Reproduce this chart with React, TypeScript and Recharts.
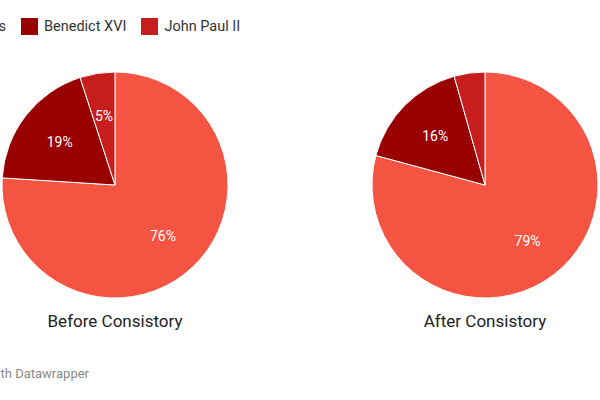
import {PieChart, Pie, Cell, Legend} from 'recharts'

const popes = ['Francis', 'Benedict XVI', 'John Paul II']
const colors = ['#f65442', '#990000', '#c71e1d']
const beforeValues = [76, 19, 5]
const afterValues = [79.2, 16.4, 4.4]
const chartTitles = ['Before Consistory', 'After Consistory']

const beforeData = popes.map((name, i) => ({name, value: beforeValues[i]}))
const afterData = popes.map((name, i) => ({name, value: afterValues[i]}))

const RADIAN = Math.PI / 180

const SliceLabel = (props: any) => {
    const {cx, cy, midAngle, percent} = props
    // datawrapper hides labels of very thin slices
    if (percent < 0.048) return null
    const r = 70
    const x = cx + r * Math.cos(-midAngle * RADIAN)
    const y = cy + r * Math.sin(-midAngle * RADIAN)
    return (
        <text x={x} y={y} fill="#fff" fontSize={14} fontFamily="Roboto" textAnchor="middle" dominantBaseline="central">
            {Math.round(percent * 100)}%
        </text>
    )
}

const LegendContent = () => (
    <div style={{display: 'flex', alignItems: 'center', fontFamily: 'Roboto', fontSize: 14.5, color: '#333', lineHeight: '17px'}}>
        {popes.map((name, i) => (
            <div key={name} style={{display: 'flex', alignItems: 'center', marginRight: 15}}>
                <div style={{width: 17, height: 17, background: colors[i], marginRight: 6}} />
                <span>{name}</span>
            </div>
        ))}
    </div>
)

const App = () => {
    return (
        <div style={{position: 'absolute', left: 0, top: 0, width: 600, height: 400, overflow: 'hidden', background: '#fff'}}>
            <PieChart width={600} height={400} margin={{top: 0, right: 0, bottom: 0, left: 0}}>
                <Legend
                    content={<LegendContent />}
                    wrapperStyle={{left: -64, top: 18, width: 'auto', height: 'auto'}}
                />
                <Pie
                    data={beforeData}
                    dataKey="value"
                    nameKey="name"
                    cx={115}
                    cy={185}
                    outerRadius={113}
                    startAngle={90}
                    endAngle={-270}
                    stroke="#fff"
                    strokeWidth={1}
                    label={SliceLabel}
                    labelLine={false}
                    isAnimationActive={false}
                >
                    {beforeData.map((d, i) => <Cell key={d.name} fill={colors[i]} />)}
                </Pie>
                <Pie
                    data={afterData}
                    dataKey="value"
                    nameKey="name"
                    cx={485}
                    cy={185}
                    outerRadius={113}
                    startAngle={90}
                    endAngle={-270}
                    stroke="#fff"
                    strokeWidth={1}
                    label={SliceLabel}
                    labelLine={false}
                    isAnimationActive={false}
                >
                    {afterData.map((d, i) => <Cell key={d.name} fill={colors[i]} />)}
                </Pie>
                <text x={115} y={321} textAnchor="middle" dominantBaseline="central" fontFamily="Roboto" fontSize={17} fill="#222">
                    {chartTitles[0]}
                </text>
                <text x={485} y={321} textAnchor="middle" dominantBaseline="central" fontFamily="Roboto" fontSize={17} fill="#222">
                    {chartTitles[1]}
                </text>
            </PieChart>
            <div style={{position: 'absolute', right: 511, top: 366, whiteSpace: 'nowrap', fontFamily: 'Roboto', fontSize: 13, color: '#8a8a8a'}}>
                Created with Datawrapper
            </div>
        </div>
    )
}

export default App
